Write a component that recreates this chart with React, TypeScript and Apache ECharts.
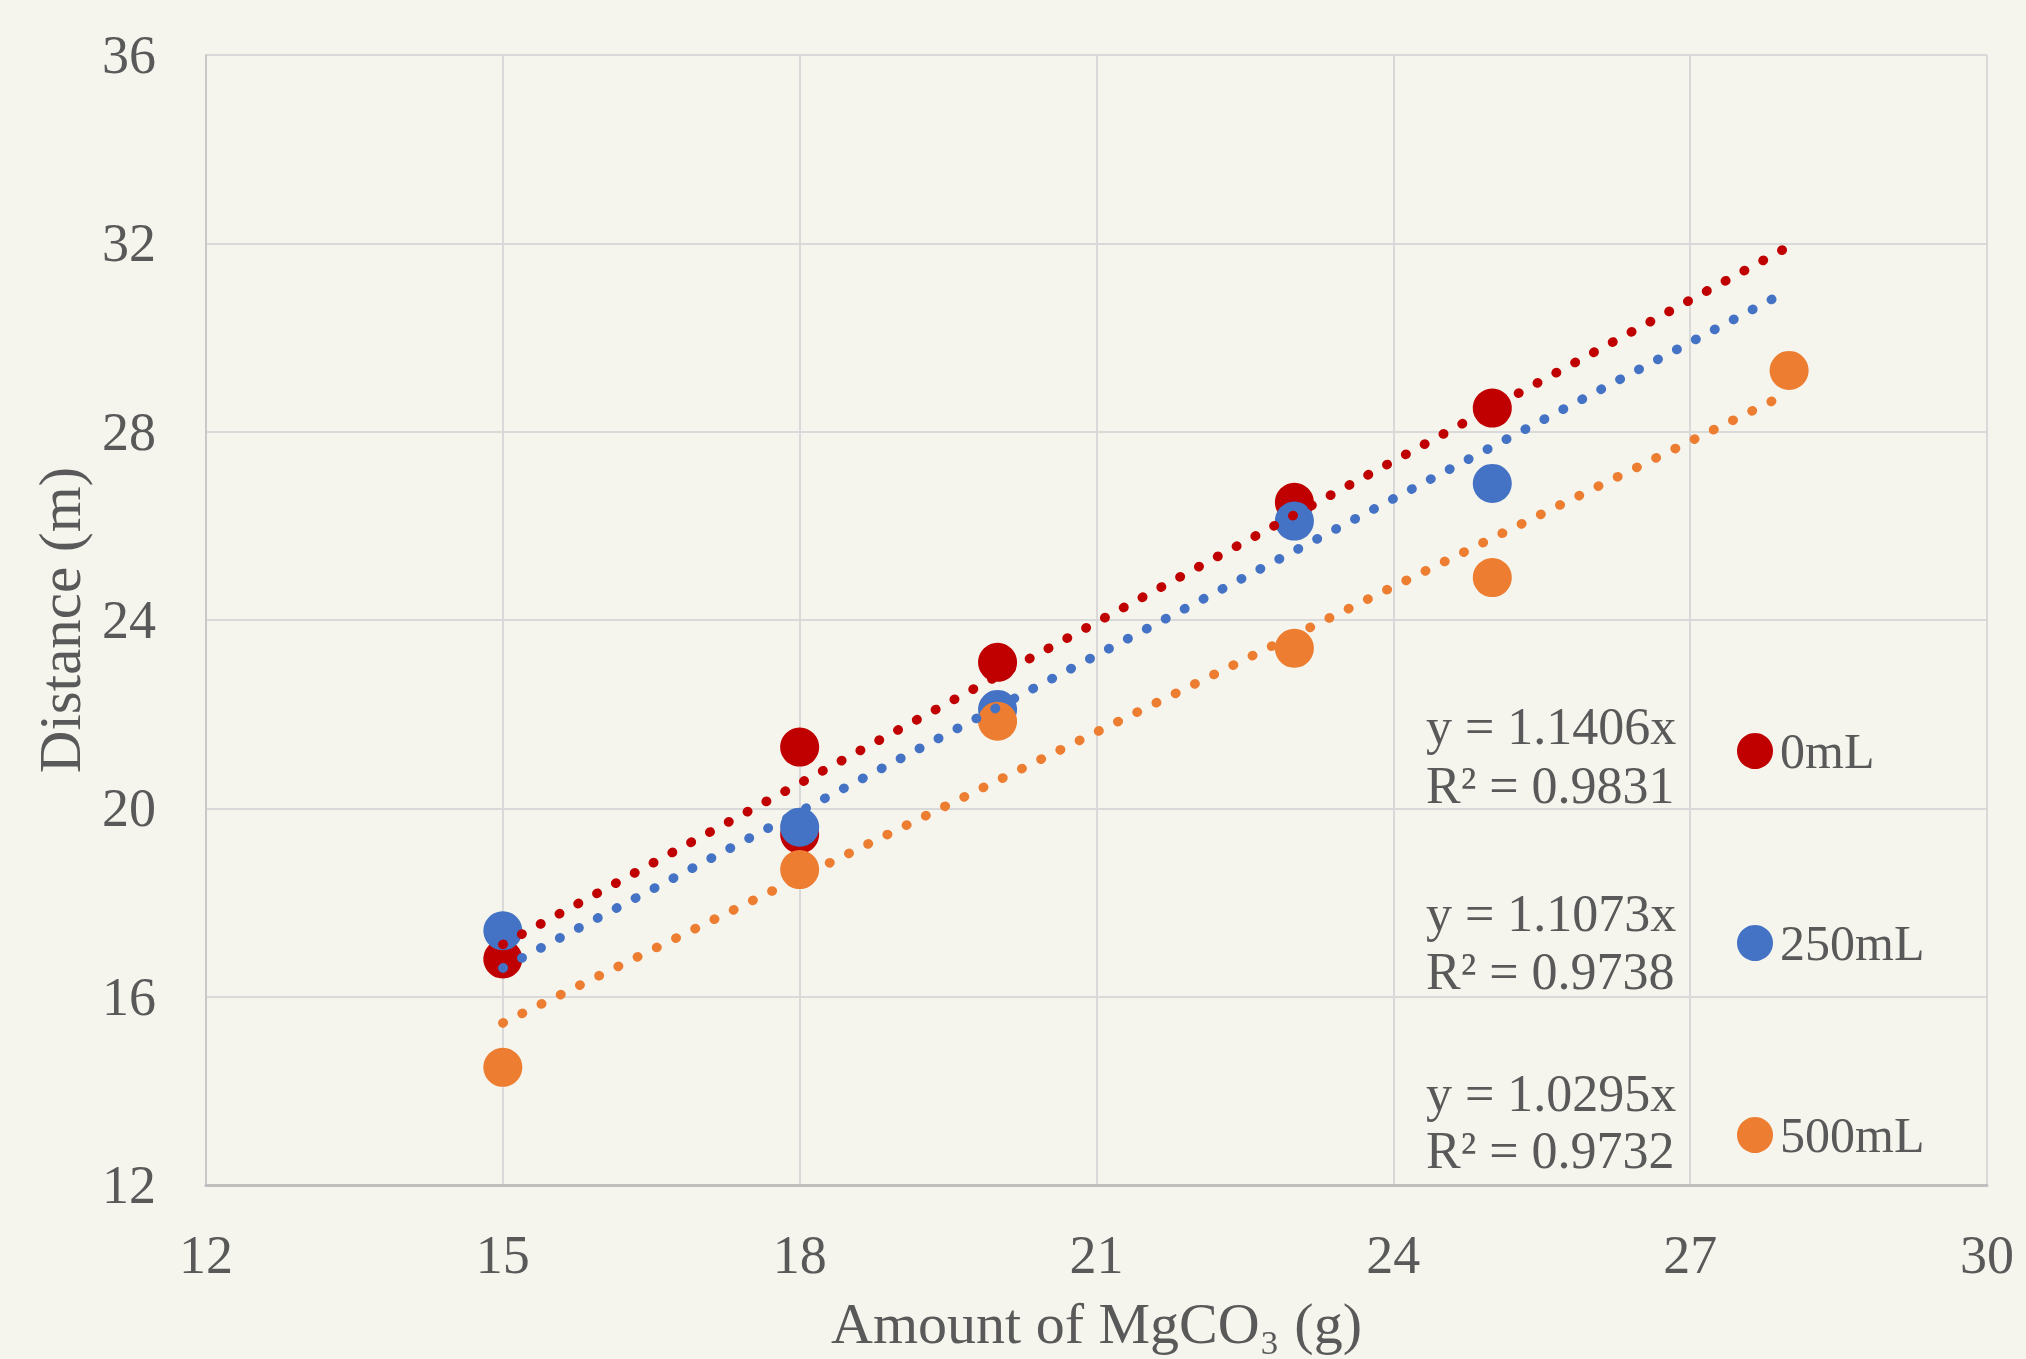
import React, { useEffect, useRef } from "react";
import * as echarts from "echarts";

// ---- data ----
const seriesNames = ["0mL", "250mL", "500mL"];
const seriesColors = ["#C00000", "#4472C4", "#ED7D31"];
const x0mL = [15, 18, 18, 20, 23, 25];
const y0mL = [16.8, 21.3, 19.45, 23.1, 26.5, 28.5];
const x250mL = [15, 18, 20, 23, 25];
const y250mL = [17.4, 19.6, 22.1, 26.1, 26.9];
const x500mL = [15, 18, 20, 23, 25, 28];
const y500mL = [14.5, 18.7, 21.85, 23.4, 24.9, 29.3];
const trendSlopes = [1.1406, 1.1073, 1.0295];
const trendR2 = ["0.9831", "0.9738", "0.9732"];
const trendXRange = [15, 28];
const xAxisMin = 12, xAxisMax = 30, xAxisStep = 3;
const yAxisMin = 12, yAxisMax = 36, yAxisStep = 4;
const xAxisTitle = "Amount of MgCO₃ (g)";
const yAxisTitle = "Distance (m)";

const FONT = "'Liberation Serif', 'DejaVu Serif', serif";
const TEXT = "#595959";
const BG = "#F5F5EE";

export default function App() {
  const ref = useRef<HTMLDivElement>(null);
  useEffect(() => {
    if (!ref.current) return;
    const chart = echarts.init(ref.current, undefined, { renderer: "svg" });
    const xs = [x0mL, x250mL, x500mL];
    const ys = [y0mL, y250mL, y500mL];

    const scatterSeries = seriesNames.map((name, i) => ({
      name,
      type: "scatter",
      symbol: "circle",
      symbolSize: 39,
      z: 2,
      itemStyle: { color: seriesColors[i], opacity: 1 },
      data: xs[i].map((x, k) => [x, ys[i][k]]),
    }));

    const trendSeries = seriesNames.map((name, i) => ({
      name: name + " trend",
      type: "line",
      z: 3,
      symbol: "none",
      silent: true,
      lineStyle: {
        color: seriesColors[i],
        width: 9.5,
        type: [0.5, 20.9],
        cap: "round",
      },
      data: trendXRange.map((x) => [x, x * trendSlopes[i]]),
    }));

    const eqCenters = [
      [726.7, 785],
      [913.3, 971.7],
      [1093.3, 1150],
    ];
    const graphics: any[] = [];
    seriesNames.forEach((_, i) => {
      graphics.push({
        type: "text",
        left: 1426,
        top: eqCenters[i][0] - 26,
        style: {
          text: `y = ${trendSlopes[i].toFixed(4)}x`,
          fill: TEXT,
          font: `52px ${FONT}`,
        },
      });
      graphics.push({
        type: "text",
        left: 1426,
        top: eqCenters[i][1] - 26,
        style: {
          text: `R² = ${trendR2[i]}`,
          fill: TEXT,
          font: `52px ${FONT}`,
        },
      });
    });

    chart.setOption({
      animation: false,
      backgroundColor: BG,
      textStyle: { fontFamily: FONT },
      grid: { left: 206, right: 39, top: 55, bottom: 174, containLabel: false },
      legend: {
        data: seriesNames.map((n) => ({ name: n, icon: "circle" })),
        orient: "vertical",
        left: 1732,
        top: 721,
        itemWidth: 36,
        itemHeight: 36,
        itemGap: 142,
        textStyle: { color: TEXT, fontSize: 50, fontFamily: FONT, padding: [0, 0, 0, 2] },
        selectedMode: false,
      },
      xAxis: {
        type: "value",
        min: xAxisMin,
        max: xAxisMax,
        interval: xAxisStep,
        name: xAxisTitle,
        nameLocation: "middle",
        nameGap: 109,
        nameTextStyle: { color: TEXT, fontSize: 58, fontFamily: FONT },
        axisLine: { show: true, lineStyle: { color: "#BFBFBF", width: 3 } },
        axisTick: { show: false },
        axisLabel: { color: TEXT, fontSize: 54, fontFamily: FONT, margin: 43 },
        splitLine: { show: true, lineStyle: { color: "#D9D9D9", width: 2 } },
      },
      yAxis: {
        type: "value",
        min: yAxisMin,
        max: yAxisMax,
        interval: yAxisStep,
        name: yAxisTitle,
        nameLocation: "middle",
        nameGap: 117,
        nameTextStyle: { color: TEXT, fontSize: 59, fontFamily: FONT },
        axisLine: { show: true, lineStyle: { color: "#C8C8C8", width: 2 } },
        axisTick: { show: false },
        axisLabel: { color: TEXT, fontSize: 54, fontFamily: FONT, margin: 50 },
        splitLine: { show: true, lineStyle: { color: "#D9D9D9", width: 2 } },
      },
      series: [...scatterSeries, ...trendSeries],
      graphic: graphics,
    });
    return () => chart.dispose();
  }, []);
  return (
    <div
      ref={ref}
      style={{ position: "fixed", left: 0, top: 0, width: 2026, height: 1359, background: BG }}
    />
  );
}
